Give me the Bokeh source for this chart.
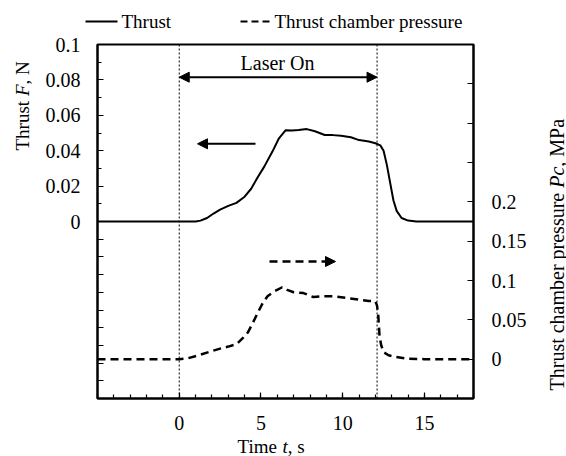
import math
from bokeh.plotting import figure
from bokeh.models import (Range1d, LinearAxis, FixedTicker, CustomJSTickFormatter,
                          Arrow, NormalHead, Label)
from bokeh.embed import file_html
from bokeh.resources import INLINE

# ---------------- data ----------------
thrust_t = [-5, 1.0, 1.3, 1.7, 2.1, 2.5, 3.0, 3.5, 4.0, 4.4, 4.8, 5.2, 5.7, 6.1, 6.5,
            6.9, 7.3, 7.8, 8.3, 8.9, 9.4, 9.9, 10.5, 11.0, 11.6, 12.0, 12.3, 12.5,
            12.7, 12.9, 13.1, 13.3, 13.6, 14.0, 14.5, 18]
thrust_F = [0, 0, 0.0005, 0.002, 0.0045, 0.0067, 0.0088, 0.0105, 0.014, 0.0185, 0.025,
            0.031, 0.0395, 0.047, 0.0515, 0.0514, 0.0517, 0.0522, 0.051, 0.0489, 0.0488,
            0.0485, 0.0476, 0.046, 0.0452, 0.0442, 0.043, 0.040, 0.032, 0.022, 0.012,
            0.006, 0.002, 0.0005, 0, 0]

press_t = [-5, 0, 0.5, 1.1, 1.8, 2.5, 3.0, 3.5, 3.9, 4.2, 4.5, 4.8, 5.1, 5.4, 5.8, 6.3,
           6.6, 7.0, 7.6, 8.2, 8.8, 9.4, 10.2, 11.0, 11.6, 12.0, 12.1, 12.18, 12.25,
           12.35, 12.5, 12.8, 13.2, 14.0, 15.0, 18]
press_P = [0, 0, 0.001, 0.0045, 0.009, 0.0134, 0.016, 0.019, 0.027, 0.034, 0.046, 0.059,
           0.071, 0.08, 0.086, 0.0914, 0.088, 0.085, 0.084, 0.079, 0.08, 0.08, 0.078,
           0.0757, 0.074, 0.0735, 0.068, 0.054, 0.03, 0.018, 0.009, 0.005, 0.003,
           0.0005, 0, 0]

laser_on_start = 0.0
laser_on_end = 12.1

x_major = [0, 5, 10, 15]
x_minor = list(range(-5, 19))
left_major = [-0.09, -0.08, -0.07, -0.06, -0.05, -0.04, -0.03, -0.02, -0.01,
              0, 0.02, 0.04, 0.06, 0.08, 0.1]
left_minor = [0.01, 0.03, 0.05, 0.07, 0.09]
right_major = [0, 0.05, 0.1, 0.15, 0.2]
right_minor = [-0.05, 0.25, 0.3, 0.35, 0.4]

# ---------------- layout ----------------
W, H = 566, 456
BL, BR, BT, BB = 97, 473, 44, 398      # plot box edges in pixels
X0, X1 = -5, 18                         # box limits, time
Y0, Y1 = -0.1, 0.1                      # box limits, thrust
P0, P1 = -0.05, 0.4                     # box limits, pressure
SERIF = "Liberation Serif"

def ext(lo, hi, a, b, n, flip=False):
    """Extend range [lo, hi] spanning pixels a..b to the full canvas 0..n."""
    per = (hi - lo) / (b - a)
    if flip:   # pixel axis runs downwards
        return lo - (n - b) * per, hi + a * per
    return lo - a * per, hi + (n - b) * per

XR = ext(X0, X1, BL, BR, W)
YR = ext(Y0, Y1, BT, BB, H, flip=True)
PR = ext(P0, P1, BT, BB, H, flip=True)

def px_x(px):   # pixel -> data x
    return XR[0] + px / W * (XR[1] - XR[0])

def px_y(py):   # pixel -> thrust data y
    return YR[1] - py / H * (YR[1] - YR[0])

p = figure(width=W, height=H, output_backend="svg", toolbar_location=None,
           x_range=Range1d(*XR), y_range=Range1d(*YR),
           x_axis_location=None, y_axis_location=None,
           min_border=0, min_border_left=0, min_border_right=0,
           min_border_top=0, min_border_bottom=0)
p.extra_y_ranges = {"p": Range1d(*PR)}
p.grid.visible = False
p.outline_line_color = None
p.background_fill_color = "white"
p.border_fill_color = "white"

fmt = CustomJSTickFormatter(code="""
if (tick < -1e-9) { return ''; }
return String(Number(tick.toFixed(4)));
""")

def make_axis(loc, bounds, ticks, minor, minor_len, standoff, **kw):
    ax = LinearAxis(fixed_location=loc, bounds=bounds,
                    ticker=FixedTicker(ticks=ticks, minor_ticks=minor), **kw)
    ax.axis_line_color = "black"
    ax.axis_line_width = 2
    ax.major_tick_in = 6
    ax.major_tick_out = 0
    ax.minor_tick_in = minor_len
    ax.minor_tick_out = 0
    ax.major_tick_line_width = 1.2
    ax.minor_tick_line_width = 1.2
    ax.major_label_text_font = SERIF
    ax.major_label_text_font_size = "20px"
    ax.major_label_text_color = "black"
    ax.major_label_standoff = standoff
    ax.formatter = fmt
    return ax

# plot box
p.quad(left=[X0], right=[X1], bottom=[Y0], top=[Y1], fill_alpha=0,
       line_color="black", line_width=2)

p.add_layout(make_axis(Y0, (X0, X1), x_major, x_minor, 4, 17), "below")
p.add_layout(make_axis(X0, (Y0, Y1), left_major, left_minor, 4, 17), "left")
p.add_layout(make_axis(X1, (P0, P1), right_major, right_minor, 6, 18,
                       y_range_name="p"), "right")

# laser on markers
p.segment(x0=[laser_on_start, laser_on_end], y0=[Y0, Y0],
          x1=[laser_on_start, laser_on_end], y1=[Y1, Y1],
          line_color="black", line_width=1, line_dash="2 2")

# curves
p.line(thrust_t, thrust_F, line_color="black", line_width=2)
p.line(press_t, press_P, y_range_name="p", line_color="black", line_width=2.5,
       line_dash="8 5")

# double arrow "Laser On"
def head():
    return NormalHead(size=10, fill_color="black", line_color="black")

p.add_layout(Arrow(start=head(), end=head(),
                   x_start=laser_on_start, x_end=laser_on_end,
                   y_start=px_y(76.7), y_end=px_y(76.7),
                   line_color="black", line_width=2))
p.add_layout(Label(x=px_x(277), y=px_y(62), text="Laser On", text_font=SERIF,
                   text_font_size="20px", text_align="center", text_baseline="middle",
                   text_color="black"))

# direction arrows
p.add_layout(Arrow(end=head(), x_start=px_x(255), x_end=px_x(197),
                   y_start=px_y(143.3), y_end=px_y(143.3),
                   line_color="black", line_width=2))
p.add_layout(Arrow(end=head(), x_start=px_x(269), x_end=px_x(335),
                   y_start=px_y(261), y_end=px_y(261),
                   line_color="black", line_width=2.5, line_dash="8 5"))

# legend above the box
p.add_layout(Arrow(end=None, x_start=px_x(85), x_end=px_x(117), y_start=px_y(21),
                   y_end=px_y(21), line_color="black", line_width=2))
p.add_layout(Label(x=px_x(121), y=px_y(21), text="Thrust", text_font=SERIF,
                   text_font_size="19px", text_baseline="middle", text_color="black"))
p.add_layout(Arrow(end=None, x_start=px_x(240), x_end=px_x(272), y_start=px_y(21),
                   y_end=px_y(21), line_color="black", line_width=2, line_dash="7 4"))
p.add_layout(Label(x=px_x(274), y=px_y(21), text="Thrust chamber pressure",
                   text_font=SERIF, text_font_size="19px", text_baseline="middle",
                   text_color="black"))

# axis titles with italic symbols
def title_piece(x, y, text, italic=False, angle=0.0, size="19px"):
    p.add_layout(Label(x=x, y=y, text=text, text_font=SERIF, text_font_size=size,
                       text_font_style="italic" if italic else "normal",
                       angle=angle, text_align="left", text_baseline="middle",
                       text_color="black"))

# left title (rotated)
title_piece(px_x(22), px_y(150), "Thrust ", angle=math.pi / 2)
title_piece(px_x(22), px_y(150 - 54.4), "F", italic=True, angle=math.pi / 2)
title_piece(px_x(22), px_y(150 - 66.0), ", N", angle=math.pi / 2)

# bottom title
title_piece(px_x(237), px_y(446), "Time ")
title_piece(px_x(237 + 44.9), px_y(446), "t", italic=True)
title_piece(px_x(237 + 50.2), px_y(446), ", s")

# right title (rotated)
title_piece(px_x(556), px_y(390), "Thrust chamber pressure ", angle=math.pi / 2, size="20px")
title_piece(px_x(556), px_y(390 - 202.7), "Pc", italic=True, angle=math.pi / 2, size="20px")
title_piece(px_x(556), px_y(390 - 223.8), ", MPa", angle=math.pi / 2, size="20px")

open("out.html", "w").write(file_html(p, INLINE))
